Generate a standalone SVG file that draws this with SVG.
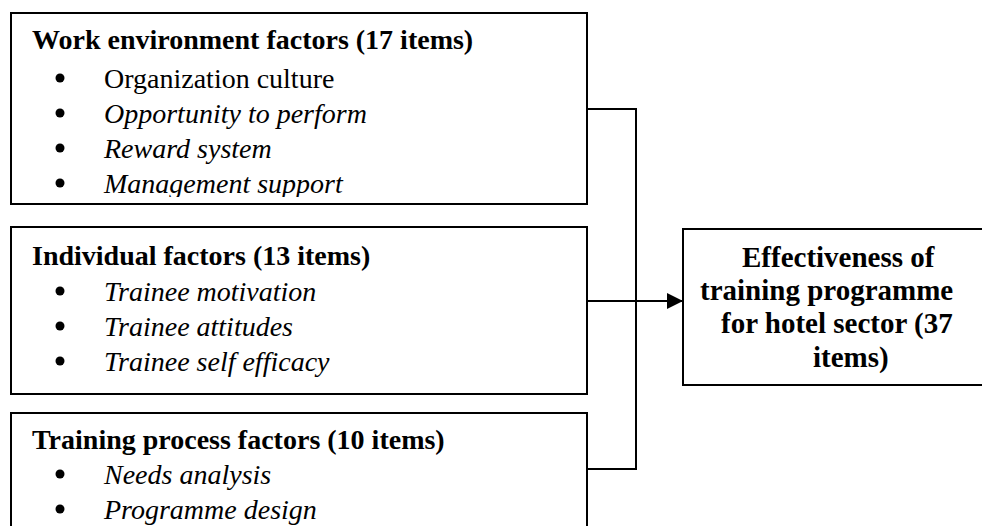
<svg xmlns="http://www.w3.org/2000/svg" width="982" height="526" viewBox="0 0 982 526">
<style>
.box{fill:#fff;stroke:#000;stroke-width:2}
.h{font-family:"Liberation Serif","Times New Roman",serif;font-weight:bold;font-size:28px;fill:#000}
.o{font-size:29px}
.t{font-family:"Liberation Serif","Times New Roman",serif;font-size:28px;fill:#000}
.i{font-style:italic}
.dot{fill:#000}
.ln{fill:none;stroke:#000;stroke-width:2}
</style>
<defs>
<clipPath id="c1"><rect x="12" y="14" width="574" height="183"/></clipPath>
<marker id="arr" viewBox="0 0 16 16" refX="16" refY="8" markerWidth="16" markerHeight="16" markerUnits="userSpaceOnUse" orient="auto">
<path d="M0,0 L16,8 L0,16 Z" fill="#000"/>
</marker>
</defs>
<rect width="982" height="526" fill="#fff"/>
<g id="connectors">
<polyline class="ln" points="587,109 636,109 636,469 587,469"/>
<line class="ln" x1="587" y1="301" x2="683" y2="301" marker-end="url(#arr)"/>
</g>
<g id="work">
<rect class="box" x="11" y="13" width="576" height="191"/>
<g clip-path="url(#c1)">
<text class="h" x="32" y="49">Work environment factors (17 items)</text>
<circle class="dot" cx="60" cy="78" r="4.5"/><text class="t" x="104" y="88">Organization culture</text>
<circle class="dot" cx="60" cy="113" r="4.5"/><text class="t i" x="104" y="123">Opportunity to perform</text>
<circle class="dot" cx="60" cy="148" r="4.5"/><text class="t i" x="104" y="158">Reward system</text>
<circle class="dot" cx="60" cy="183" r="4.5"/><text class="t i" x="104" y="193">Management support</text>
</g>
</g>
<g id="individual">
<rect class="box" x="11" y="227" width="576" height="167"/>
<text class="h" x="32" y="265">Individual factors (13 items)</text>
<circle class="dot" cx="60" cy="291" r="4.5"/><text class="t i" x="104" y="301">Trainee motivation</text>
<circle class="dot" cx="60" cy="326" r="4.5"/><text class="t i" x="104" y="336">Trainee attitudes</text>
<circle class="dot" cx="60" cy="361" r="4.5"/><text class="t i" x="104" y="371">Trainee self efficacy</text>
</g>
<g id="training">
<rect class="box" x="11" y="413" width="576" height="130"/>
<text class="h" x="32" y="449">Training process factors (10 items)</text>
<circle class="dot" cx="60" cy="474" r="4.5"/><text class="t i" x="104" y="484">Needs analysis</text>
<circle class="dot" cx="60" cy="509" r="4.5"/><text class="t i" x="104" y="519">Programme design</text>
</g>
<g id="effectiveness">
<rect class="box" x="683" y="229" width="310" height="156"/>
<text class="h o" x="742" y="267">Effectiveness of</text>
<text class="h o" x="700" y="300">training programme</text>
<text class="h o" x="721" y="333">for hotel sector (37</text>
<text class="h o" x="813" y="367">items)</text>
</g>
</svg>
